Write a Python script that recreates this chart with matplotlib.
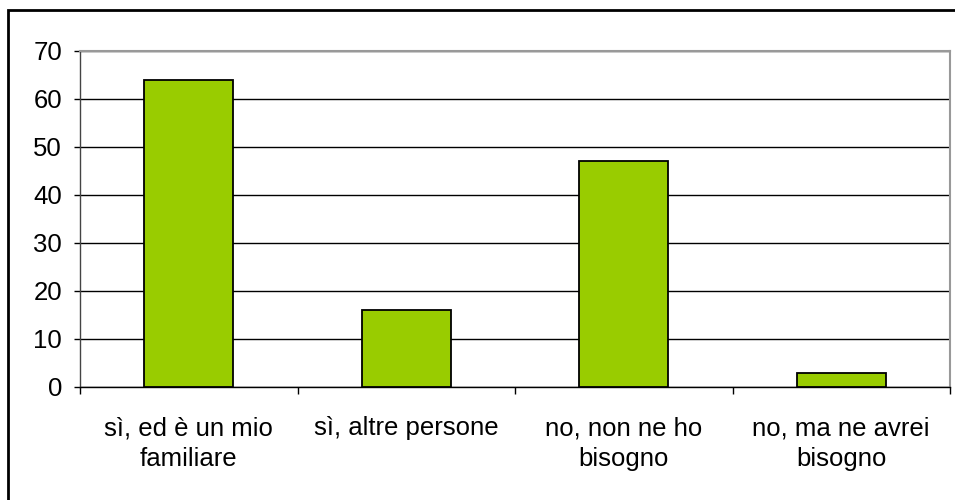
import matplotlib.pyplot as plt
from matplotlib.patches import Rectangle
from matplotlib.ticker import FixedLocator, NullFormatter

plt.rcParams['font.family'] = ['Liberation Sans', 'DejaVu Sans']

categories = ["sì, ed è un mio\nfamiliare", "sì, altre persone",
              "no, non ne ho\nbisogno", "no, ma ne avrei\nbisogno"]
values = [64, 16, 47, 3]
y_ticks = [0, 10, 20, 30, 40, 50, 60, 70]

fig = plt.figure(figsize=(9.55, 5), dpi=100)
ax = fig.add_axes([80 / 955, 1 - 387 / 500, 870 / 955, 336 / 500])

x = list(range(len(categories)))
ax.bar(x, values, width=0.41, color="#99CC00", edgecolor="black", linewidth=1.3, zorder=3)

ax.set_xlim(-0.5, len(categories) - 0.5)
ax.set_ylim(0, 70)
ax.set_yticks(y_ticks)
ax.yaxis.grid(True, color="black", linewidth=1, zorder=0)

# category labels centred, ticks on the boundaries
ax.set_xticks(x)
ax.set_xticklabels(categories, fontsize=18.5, linespacing=1.38)
ax.tick_params(axis="x", which="major", length=0, pad=21)
ax.xaxis.set_minor_locator(FixedLocator([i - 0.5 for i in range(len(categories) + 1)]))
ax.xaxis.set_minor_formatter(NullFormatter())
ax.tick_params(axis="x", which="minor", length=5, width=1, color="black")
ax.tick_params(axis="y", labelsize=18.5, length=4.5, width=1, pad=8.5)

for side in ["top", "right"]:
    ax.spines[side].set_color("#999999")
    ax.spines[side].set_linewidth(1.5)
ax.spines["left"].set_color("#444444")
ax.spines["left"].set_linewidth(1)
ax.spines["bottom"].set_color("black")
ax.spines["bottom"].set_linewidth(1)

# outer chart border
fig.patches.append(Rectangle((7.5 / 955, -0.1), 1.2, 1 - 9.5 / 500 + 0.1,
                             transform=fig.transFigure, fill=False,
                             edgecolor="black", linewidth=2, zorder=10))

fig.savefig("out.png", dpi=100, facecolor="white")
